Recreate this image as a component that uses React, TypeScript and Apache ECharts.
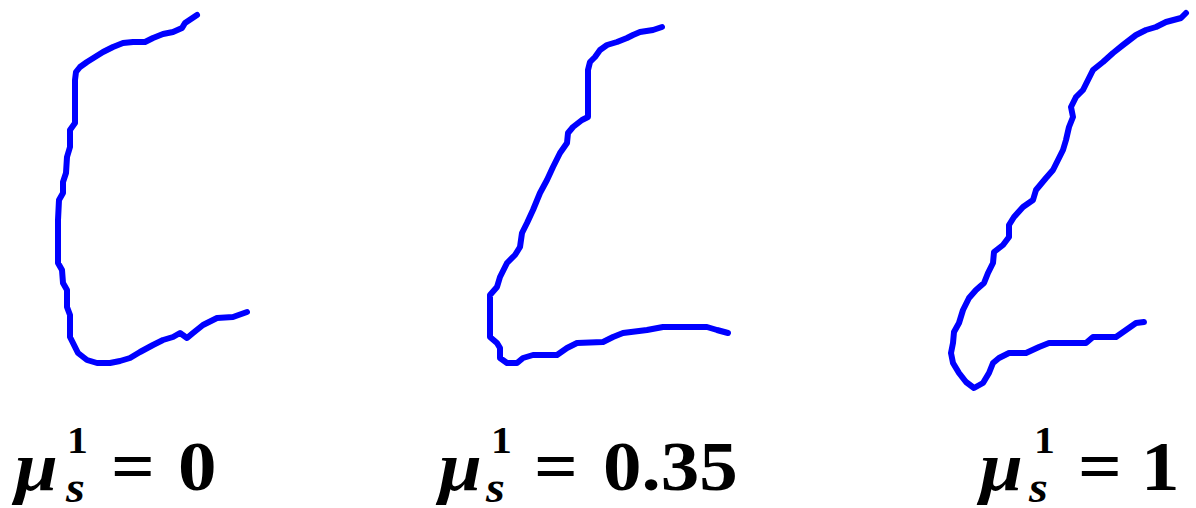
import React, { useEffect, useRef } from "react";
import * as echarts from "echarts";

// Contour traces in canvas units (x to the right, y downward).
const curveMu0: [number, number][] = [
  [197, 15], [185, 23], [182, 28], [173, 32], [163, 34], [153, 38], [145, 42], [133, 42],
  [123, 43], [113, 47], [103, 52], [95, 57], [87, 62], [80, 67], [76, 72], [75, 80],
  [75, 100], [75, 123], [70, 130], [70, 147], [67, 157], [66, 173], [63, 182], [63, 193],
  [59, 200], [58, 220], [58, 240], [58, 263], [62, 270], [63, 283], [67, 290], [67, 307],
  [70, 315], [70, 337], [73, 343], [78, 353], [87, 360], [97, 363], [110, 363], [120, 361],
  [130, 358], [140, 352], [153, 345], [163, 340], [173, 337], [180, 333], [187, 338],
  [193, 333], [203, 325], [217, 318], [233, 317], [247, 312],
];

const curveMu035: [number, number][] = [
  [662, 27], [653, 30], [640, 32], [633, 35], [627, 38], [617, 42], [607, 45], [600, 50],
  [595, 57], [590, 62], [588, 70], [588, 87], [588, 117], [582, 120], [573, 127], [568, 133],
  [567, 143], [560, 153], [553, 167], [547, 180], [540, 193], [533, 210], [527, 223],
  [522, 233], [520, 247], [515, 255], [507, 263], [500, 277], [497, 287], [490, 295],
  [490, 317], [490, 337], [497, 343], [500, 348], [500, 358], [507, 363], [517, 363],
  [523, 358], [533, 355], [557, 355], [567, 348], [577, 343], [603, 342], [613, 337],
  [623, 333], [647, 330], [663, 327], [683, 327], [707, 327], [717, 330], [728, 333],
];

const curveMu1: [number, number][] = [
  [1186, 13], [1181, 18], [1166, 22], [1156, 27], [1146, 30], [1136, 35], [1123, 45],
  [1113, 53], [1103, 62], [1093, 70], [1088, 80], [1083, 90], [1076, 97], [1071, 107],
  [1073, 117], [1069, 127], [1066, 140], [1063, 150], [1058, 160], [1053, 170], [1046, 178],
  [1036, 190], [1033, 200], [1023, 207], [1014, 217], [1009, 225], [1009, 237], [1003, 245],
  [994, 252], [993, 263], [988, 273], [984, 283], [976, 290], [969, 298], [963, 310],
  [959, 323], [954, 332], [953, 343], [951, 353], [953, 363], [959, 373], [966, 382],
  [974, 388], [983, 383], [989, 373], [993, 363], [999, 358], [1009, 353], [1026, 353],
  [1039, 347], [1049, 343], [1086, 343], [1093, 337], [1116, 337], [1126, 330], [1136, 323],
  [1144, 322],
];

const muValues = ["0", "0.35", "1"];

const WIDTH = 1196;
const HEIGHT = 508;
const BLUE = "#0000ff";

type LabelPos = { mu: number; sup: number; sub: number; eq: number; val: number };
const labelPositions: LabelPos[] = [
  { mu: 15, sup: 67, sub: 66, eq: 111, val: 178 },
  { mu: 439, sup: 491, sub: 486, eq: 534, val: 603 },
  { mu: 980, sup: 1034, sub: 1029, eq: 1078, val: 1141 },
];

// Top-aligned text: the baseline sits about 0.8375 em below the element's y.
function txt(text: string, x: number, baseline: number, size: number, italic = false) {
  return {
    type: "text",
    x,
    y: baseline - 0.8375 * size,
    scaleX: 1.1,
    style: {
      text,
      fontFamily: "Liberation Serif",
      fontSize: size,
      fontWeight: "bold",
      fontStyle: italic ? "italic" : "normal",
      fill: "#000",
      align: "left",
      verticalAlign: "top",
    },
  };
}

function formulaLabel(value: string, p: LabelPos) {
  return {
    type: "group",
    children: [
      txt("μ", p.mu, 490, 70, true),
      txt("1", p.sup, 453, 38),
      txt("s", p.sub, 502, 44, true),
      txt("=", p.eq, 490, 70),
      txt(value, p.val, 490, 70),
    ],
  };
}

// Curves layer: three contour lines on hidden pixel-unit axes.
const curveOption: any = {
  backgroundColor: "#fff",
  grid: { left: 0, right: 0, top: 0, bottom: 0 },
  xAxis: { type: "value", min: 0, max: WIDTH, show: false },
  yAxis: { type: "value", min: 0, max: HEIGHT, inverse: true, show: false },
  series: [curveMu0, curveMu035, curveMu1].map((data) => ({
    type: "line",
    data,
    showSymbol: false,
    lineStyle: { color: BLUE, width: 6, join: "round", cap: "round" },
  })),
};

// Label layer: the friction-coefficient formulas under each curve.
const labelOption: any = {
  graphic: labelPositions.map((p, i) => formulaLabel(muValues[i], p)),
};

function Chart({ opt }: { opt: any }) {
  const ref = useRef<HTMLDivElement>(null);
  useEffect(() => {
    if (!ref.current) return;
    const chart = echarts.init(ref.current, undefined, { renderer: "svg" });
    chart.setOption({ animation: false, ...opt });
    return () => chart.dispose();
  }, []);
  return (
    <div
      ref={ref}
      style={{ position: "absolute", left: 0, top: 0, width: WIDTH, height: HEIGHT }}
    />
  );
}

export default function App() {
  useEffect(() => {
    document.body.style.margin = "0";
  }, []);
  return (
    <div style={{ position: "relative", width: WIDTH, height: HEIGHT }}>
      <Chart opt={curveOption} />
      <Chart opt={labelOption} />
    </div>
  );
}
